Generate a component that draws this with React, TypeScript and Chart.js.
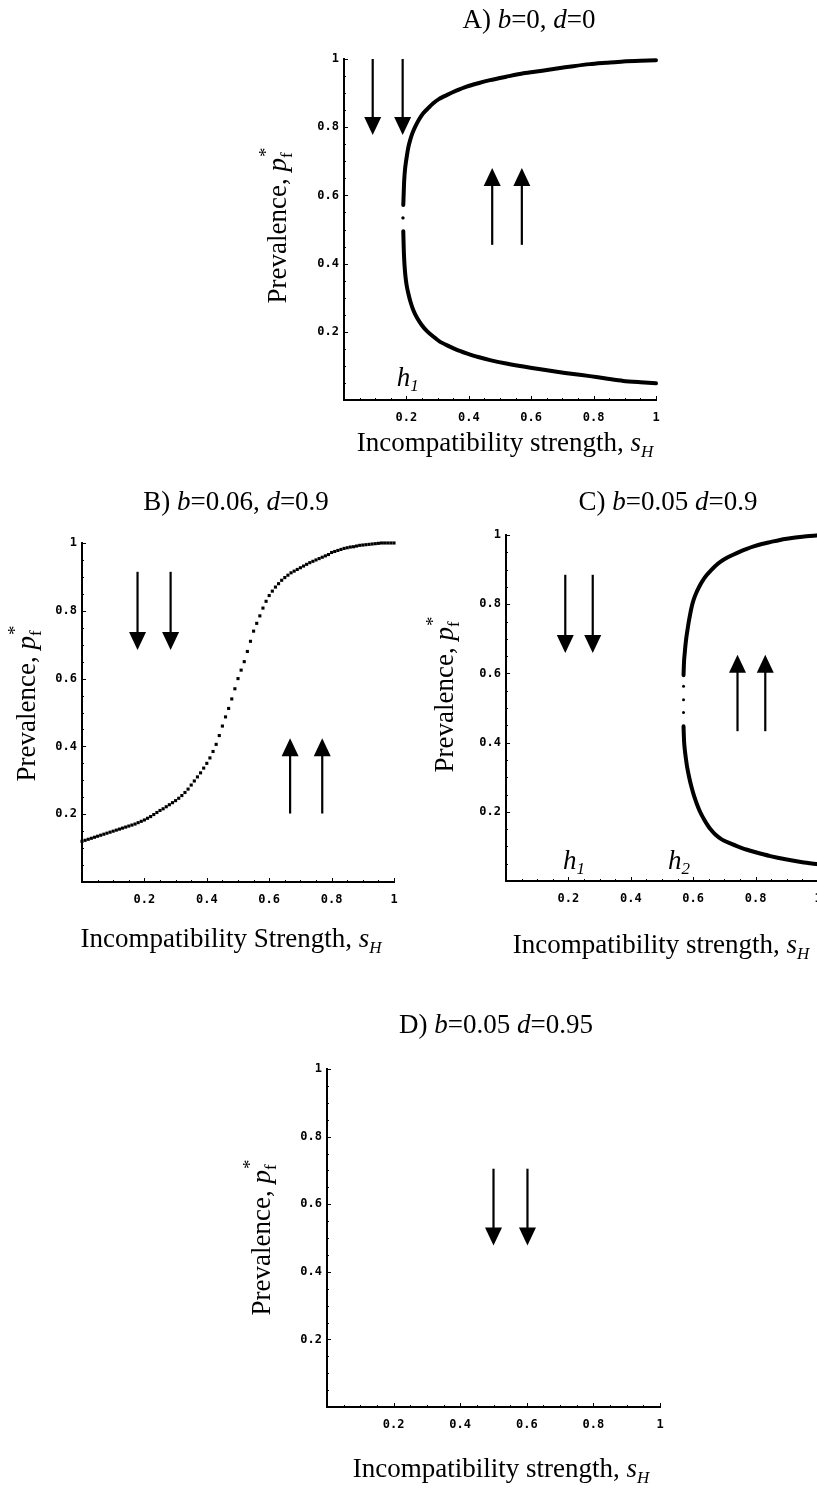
import React, { useEffect, useRef } from 'react';
import { Chart, registerables } from 'chart.js';

Chart.register(...registerables);

// ---------------- DATA ----------------
const xTickLabels = ['', '0.2', '0.4', '0.6', '0.8', '1'];
const yTickLabels = ['', '0.2', '0.4', '0.6', '0.8', '1'];

const titleA = ['A) ', 'b', '=0, ', 'd', '=0'];
const titleB = ['B) ', 'b', '=0.06, ', 'd', '=0.9'];
const titleC = ['C) ', 'b', '=0.05 ', 'd', '=0.9'];
const titleD = ['D) ', 'b', '=0.05 ', 'd', '=0.95'];
const yLabelText = 'Prevalence, ';
const xLabelLower = 'Incompatibility strength, ';
const xLabelUpper = 'Incompatibility Strength, ';

// Panel A: stable branches
const aUpperS = [0.190, 0.1915, 0.193, 0.196, 0.201, 0.206, 0.212, 0.219, 0.228, 0.240, 0.254, 0.270, 0.286, 0.305, 0.329, 0.360, 0.393, 0.430, 0.468, 0.520, 0.575, 0.630, 0.682, 0.735, 0.788, 0.840, 0.895, 0.950, 1.0];
const aUpperP = [0.572, 0.610, 0.645, 0.680, 0.713, 0.740, 0.762, 0.782, 0.801, 0.822, 0.841, 0.856, 0.870, 0.883, 0.894, 0.907, 0.919, 0.929, 0.938, 0.948, 0.958, 0.965, 0.972, 0.979, 0.985, 0.989, 0.993, 0.995, 0.996];
const aLowerS = [0.190, 0.191, 0.192, 0.194, 0.197, 0.201, 0.206, 0.213, 0.222, 0.234, 0.249, 0.266, 0.286, 0.306, 0.329, 0.360, 0.393, 0.430, 0.468, 0.520, 0.575, 0.630, 0.682, 0.735, 0.788, 0.840, 0.895, 0.950, 1.0];
const aLowerP = [0.495, 0.460, 0.430, 0.395, 0.362, 0.335, 0.313, 0.288, 0.264, 0.241, 0.220, 0.202, 0.186, 0.172, 0.161, 0.148, 0.137, 0.126, 0.117, 0.107, 0.098, 0.090, 0.083, 0.076, 0.070, 0.063, 0.056, 0.052, 0.049];
const aGapS = [0.189];
const aGapP = [0.534];
const aArrowS = [0.092, 0.188, 0.475, 0.570];
const aArrowFrom = [1.0, 1.0, 0.455, 0.455];
const aArrowTo = [0.777, 0.777, 0.680, 0.680];
const aHS = [0.169];
const aHP = [0.040];
const aHSub = ['1'];

// Panel B: dotted equilibrium curve
const bS = [
  0.00, 0.01, 0.02, 0.03, 0.04, 0.05, 0.06, 0.07, 0.08, 0.09,
  0.10, 0.11, 0.12, 0.13, 0.14, 0.15, 0.16, 0.17, 0.18, 0.19,
  0.20, 0.21, 0.22, 0.23, 0.24, 0.25, 0.26, 0.27, 0.28, 0.29,
  0.30, 0.31, 0.32, 0.33, 0.34, 0.35, 0.36, 0.37, 0.38, 0.39,
  0.40, 0.41, 0.42, 0.43, 0.44, 0.45, 0.46, 0.47, 0.48, 0.49,
  0.50, 0.51, 0.52, 0.53, 0.54, 0.55, 0.56, 0.57, 0.58, 0.59,
  0.60, 0.61, 0.62, 0.63, 0.64, 0.65, 0.66, 0.67, 0.68, 0.69,
  0.70, 0.71, 0.72, 0.73, 0.74, 0.75, 0.76, 0.77, 0.78, 0.79,
  0.80, 0.81, 0.82, 0.83, 0.84, 0.85, 0.86, 0.87, 0.88, 0.89,
  0.90, 0.91, 0.92, 0.93, 0.94, 0.95, 0.96, 0.97, 0.98, 0.99, 1.00,
];
const bP = [
  0.120, 0.123, 0.126, 0.129, 0.132, 0.135, 0.138, 0.141, 0.144, 0.147,
  0.150, 0.153, 0.156, 0.159, 0.162, 0.165, 0.168, 0.171, 0.175, 0.179,
  0.183, 0.188, 0.193, 0.199, 0.205, 0.211, 0.216, 0.222, 0.228, 0.234,
  0.240, 0.247, 0.255, 0.264, 0.274, 0.286, 0.298, 0.310, 0.322, 0.336,
  0.350, 0.366, 0.385, 0.406, 0.432, 0.460, 0.487, 0.512, 0.540, 0.570,
  0.600, 0.625, 0.650, 0.680, 0.710, 0.740, 0.763, 0.785, 0.808, 0.828,
  0.845, 0.858, 0.870, 0.880, 0.890, 0.898, 0.905, 0.912, 0.917, 0.922,
  0.927, 0.932, 0.937, 0.942, 0.946, 0.950, 0.954, 0.958, 0.962, 0.966,
  0.972, 0.975, 0.978, 0.981, 0.984, 0.986, 0.988, 0.989, 0.991, 0.993,
  0.994, 0.995, 0.996, 0.997, 0.998, 0.999, 1.000, 1.000, 1.000, 1.000, 1.000,
];
const bArrowS = [0.178, 0.284, 0.667, 0.770];
const bArrowFrom = [0.915, 0.915, 0.202, 0.202];
const bArrowTo = [0.684, 0.684, 0.424, 0.424];

// Panel C
const cUpperS = [0.569, 0.570, 0.571, 0.573, 0.575, 0.5775, 0.580, 0.585, 0.590, 0.595, 0.601, 0.610, 0.620, 0.631, 0.644, 0.657, 0.670, 0.688, 0.708, 0.728, 0.750, 0.772, 0.794, 0.820, 0.850, 0.875, 0.900, 0.950, 1.0];
const cUpperP = [0.595, 0.620, 0.640, 0.660, 0.680, 0.700, 0.716, 0.745, 0.770, 0.792, 0.812, 0.833, 0.852, 0.869, 0.885, 0.898, 0.910, 0.923, 0.934, 0.943, 0.952, 0.960, 0.967, 0.974, 0.980, 0.985, 0.989, 0.995, 0.999];
const cLowerS = [0.569, 0.570, 0.571, 0.573, 0.575, 0.5775, 0.580, 0.587, 0.595, 0.603, 0.612, 0.623, 0.635, 0.645, 0.655, 0.670, 0.690, 0.715, 0.740, 0.770, 0.800, 0.847, 0.900, 0.950, 1.0];
const cLowerP = [0.447, 0.420, 0.400, 0.380, 0.365, 0.348, 0.332, 0.300, 0.270, 0.245, 0.222, 0.198, 0.178, 0.163, 0.150, 0.135, 0.121, 0.110, 0.101, 0.091, 0.083, 0.072, 0.062, 0.054, 0.048];
const cGapS = [0.569, 0.569, 0.569];
const cGapP = [0.563, 0.524, 0.487];
const cArrowS = [0.190, 0.278, 0.742, 0.831];
const cArrowFrom = [0.885, 0.885, 0.433, 0.433];
const cArrowTo = [0.659, 0.659, 0.654, 0.654];
const cHS = [0.183, 0.519];
const cHP = [0.034, 0.034];
const cHSub = ['1', '2'];

// Panel D
const dArrowS = [0.500, 0.602];
const dArrowFrom = [0.705, 0.705];
const dArrowTo = [0.478, 0.478];

// ---------------- STYLE / LAYOUT ----------------
const SERIF = "'Liberation Serif', 'Times New Roman', serif";
const MONO = "'DejaVu Sans Mono', 'Liberation Mono', monospace";
const FS = 27;
const Y_AXIS_W = 40;
const X_AXIS_H = 40;

type Seg = { t: string; it?: boolean; sz: number; dy?: number; over?: boolean };

function segFont(s: Seg) {
  return `${s.it ? 'italic ' : ''}${s.sz}px ${SERIF}`;
}

function richWidth(ctx: CanvasRenderingContext2D, segs: Seg[]) {
  let w = 0;
  let lastStart = 0;
  let lastW = 0;
  for (const s of segs) {
    ctx.font = segFont(s);
    const mw = ctx.measureText(s.t).width;
    if (s.over) {
      const end = Math.max(lastStart + lastW, lastStart + mw);
      w = Math.max(w, end);
    } else {
      lastStart = w;
      lastW = mw;
      w += mw;
    }
  }
  return w;
}

function drawRich(ctx: CanvasRenderingContext2D, segs: Seg[], x: number, y: number, align: 'center' | 'left') {
  const total = richWidth(ctx, segs);
  let cx = align === 'center' ? x - total / 2 : x;
  let lastStart = cx;
  ctx.textAlign = 'left';
  ctx.textBaseline = 'alphabetic';
  ctx.fillStyle = '#000';
  for (const s of segs) {
    ctx.font = segFont(s);
    const mw = ctx.measureText(s.t).width;
    if (s.over) {
      ctx.fillText(s.t, lastStart + 1, y + (s.dy || 0));
      cx = Math.max(cx, lastStart + mw);
    } else {
      ctx.fillText(s.t, cx, y + (s.dy || 0));
      lastStart = cx;
      cx += mw;
    }
  }
}

function titleSegs(parts: string[]): Seg[] {
  return parts.map((t, i) => ({ t, it: i === 1 || i === 3, sz: FS }));
}
const ySegs: Seg[] = [
  { t: yLabelText, sz: FS },
  { t: 'p', it: true, sz: FS },
  { t: 'f', sz: 17, dy: 6 },
  { t: '*', sz: 19, dy: -14, over: true },
];
function xSegs(text: string): Seg[] {
  return [
    { t: text, sz: FS },
    { t: 's', it: true, sz: FS },
    { t: 'H', it: true, sz: 17, dy: 6 },
  ];
}

function drawArrow(ctx: CanvasRenderingContext2D, x: number, y0: number, y1: number) {
  const dir = y1 > y0 ? 1 : -1;
  const headLen = 18;
  const headHalf = 8.5;
  const baseY = y1 - dir * headLen;
  ctx.strokeStyle = '#000';
  ctx.fillStyle = '#000';
  ctx.lineWidth = 2.2;
  ctx.beginPath();
  ctx.moveTo(x, y0);
  ctx.lineTo(x, baseY + dir * 2);
  ctx.stroke();
  ctx.beginPath();
  ctx.moveTo(x - headHalf, baseY);
  ctx.lineTo(x + headHalf, baseY);
  ctx.lineTo(x, y1);
  ctx.closePath();
  ctx.fill();
}

type PanelCfg = {
  id: string;
  box: { left: number; top: number; w: number; h: number };
  plot: { left: number; top: number; right: number; bottom: number };
  title: Seg[];
  titlePos: [number, number];
  yLabelPos: [number, number];
  xLabel: Seg[];
  xLabelPos: [number, number];
  datasets: any[];
  arrows: { s: number[]; from: number[]; to: number[] };
  hLabels?: { s: number[]; p: number[]; sub: string[] };
};

const lineDs = (s: number[], p: number[]) => ({
  data: s.map((v, i) => ({ x: v, y: p[i] })),
  showLine: true,
  borderColor: '#000',
  backgroundColor: '#000',
  borderWidth: 4,
  borderJoinStyle: 'round',
  borderCapStyle: 'round',
  pointRadius: 0,
  tension: 0.25,
  clip: false,
});
const dotDs = (s: number[], p: number[], r: number, style: string) => ({
  data: s.map((v, i) => ({ x: v, y: p[i] })),
  showLine: false,
  borderColor: '#000',
  backgroundColor: '#000',
  borderWidth: 0,
  pointRadius: r,
  pointStyle: style,
  clip: false,
});

const panels: PanelCfg[] = [
  {
    id: 'A',
    box: { left: 240, top: 0, w: 440, h: 470 },
    plot: { left: 344, top: 59, right: 656, bottom: 400 },
    title: titleSegs(titleA),
    titlePos: [529, 28],
    yLabelPos: [286, 226],
    xLabel: xSegs(xLabelLower),
    xLabelPos: [505, 451],
    datasets: [lineDs(aUpperS, aUpperP), lineDs(aLowerS, aLowerP), dotDs(aGapS, aGapP, 1.7, 'circle')],
    arrows: { s: aArrowS, from: aArrowFrom, to: aArrowTo },
    hLabels: { s: aHS, p: aHP, sub: aHSub },
  },
  {
    id: 'B',
    box: { left: 0, top: 490, w: 420, h: 470 },
    plot: { left: 82, top: 543, right: 394, bottom: 882 },
    title: titleSegs(titleB),
    titlePos: [236, 510],
    yLabelPos: [35, 704],
    xLabel: xSegs(xLabelUpper),
    xLabelPos: [231, 947],
    datasets: [dotDs(bS, bP, 2.2, 'rect')],
    arrows: { s: bArrowS, from: bArrowFrom, to: bArrowTo },
  },
  {
    id: 'C',
    box: { left: 420, top: 490, w: 420, h: 475 },
    plot: { left: 506, top: 535, right: 818, bottom: 881 },
    title: titleSegs(titleC),
    titlePos: [668, 510],
    yLabelPos: [453, 695],
    xLabel: xSegs(xLabelLower),
    xLabelPos: [661, 953],
    datasets: [lineDs(cUpperS, cUpperP), lineDs(cLowerS, cLowerP), dotDs(cGapS, cGapP, 1.5, 'circle')],
    arrows: { s: cArrowS, from: cArrowFrom, to: cArrowTo },
    hLabels: { s: cHS, p: cHP, sub: cHSub },
  },
  {
    id: 'D',
    box: { left: 230, top: 1000, w: 460, h: 490 },
    plot: { left: 327, top: 1069, right: 660, bottom: 1407 },
    title: titleSegs(titleD),
    titlePos: [496, 1033],
    yLabelPos: [270, 1238],
    xLabel: xSegs(xLabelLower),
    xLabelPos: [501, 1477],
    datasets: [],
    arrows: { s: dArrowS, from: dArrowFrom, to: dArrowTo },
  },
];

function Panel({ cfg }: { cfg: PanelCfg }) {
  const ref = useRef<HTMLCanvasElement | null>(null);
  useEffect(() => {
    if (!ref.current) return;
    const { box, plot } = cfg;
    const pad = {
      left: plot.left - box.left - Y_AXIS_W,
      top: plot.top - box.top,
      right: box.left + box.w - plot.right,
      bottom: box.top + box.h - plot.bottom - X_AXIS_H,
    };
    const decor = {
      id: 'decor' + cfg.id,
      afterDraw(chart: any) {
        const ctx: CanvasRenderingContext2D = chart.ctx;
        const xs = chart.scales.x;
        const ys = chart.scales.y;
        const ca = chart.chartArea;
        ctx.save();
        // inward tick marks
        ctx.strokeStyle = '#000';
        ctx.lineWidth = 1;
        for (let k = 1; k <= 20; k++) {
          const v = k / 20;
          const len = k % 4 === 0 ? 4 : 2;
          const px = Math.round(xs.getPixelForValue(v)) + 0.5;
          ctx.beginPath();
          ctx.moveTo(px, ca.bottom);
          ctx.lineTo(px, ca.bottom - len);
          ctx.stroke();
          const py = Math.round(ys.getPixelForValue(v)) + 0.5;
          ctx.beginPath();
          ctx.moveTo(ca.left, py);
          ctx.lineTo(ca.left + len, py);
          ctx.stroke();
        }
        // arrows
        cfg.arrows.s.forEach((s, i) => {
          drawArrow(ctx, xs.getPixelForValue(s), ys.getPixelForValue(cfg.arrows.from[i]), ys.getPixelForValue(cfg.arrows.to[i]));
        });
        // h labels
        if (cfg.hLabels) {
          const h = cfg.hLabels;
          h.s.forEach((s, i) => {
            drawRich(ctx, [
              { t: 'h', it: true, sz: FS },
              { t: h.sub[i], it: true, sz: 17, dy: 5 },
            ], xs.getPixelForValue(s), ys.getPixelForValue(h.p[i]), 'left');
          });
        }
        // titles and axis labels
        drawRich(ctx, cfg.title, cfg.titlePos[0] - box.left, cfg.titlePos[1] - box.top, 'center');
        drawRich(ctx, cfg.xLabel, cfg.xLabelPos[0] - box.left, cfg.xLabelPos[1] - box.top, 'center');
        ctx.save();
        ctx.translate(cfg.yLabelPos[0] - box.left, cfg.yLabelPos[1] - box.top);
        ctx.rotate(-Math.PI / 2);
        drawRich(ctx, ySegs, 0, 0, 'center');
        ctx.restore();
        ctx.restore();
      },
    };
    const tickFont = { family: MONO, weight: 'bold' as const, size: 12 };
    const chart = new Chart(ref.current, {
      type: 'scatter',
      data: { datasets: cfg.datasets },
      options: {
        animation: false,
        responsive: false,
        devicePixelRatio: 1,
        layout: { padding: pad },
        plugins: { legend: { display: false }, tooltip: { enabled: false }, title: { display: false } },
        scales: {
          x: {
            type: 'linear',
            min: 0,
            max: 1,
            grid: { display: false, drawTicks: false },
            border: { display: true, color: '#000', width: 2 },
            ticks: {
              stepSize: 0.2,
              color: '#000',
              font: tickFont,
              padding: 11,
              maxRotation: 0,
              autoSkip: false,
              callback: (_v: any, i: number) => xTickLabels[i] ?? '',
            },
            afterFit: (s: any) => {
              s.height = X_AXIS_H;
            },
          },
          y: {
            type: 'linear',
            min: 0,
            max: 1,
            grid: { display: false, drawTicks: false },
            border: { display: true, color: '#000', width: 2 },
            ticks: {
              stepSize: 0.2,
              color: '#000',
              font: tickFont,
              padding: 5,
              autoSkip: false,
              callback: (_v: any, i: number) => yTickLabels[i] ?? '',
            },
            afterFit: (s: any) => {
              s.width = Y_AXIS_W;
            },
          },
        },
      },
      plugins: [decor],
    } as any);
    return () => chart.destroy();
  }, [cfg]);
  return (
    <div style={{ position: 'absolute', left: cfg.box.left, top: cfg.box.top, width: cfg.box.w, height: cfg.box.h }}>
      <canvas ref={ref} width={cfg.box.w} height={cfg.box.h} style={{ width: cfg.box.w, height: cfg.box.h, display: 'block' }} />
    </div>
  );
}

export default function App() {
  return (
    <div style={{ position: 'absolute', left: 0, top: 0, width: 817, height: 1490, overflow: 'hidden', background: '#fff' }}>
      {panels.map((p) => (
        <Panel key={p.id} cfg={p} />
      ))}
    </div>
  );
}
